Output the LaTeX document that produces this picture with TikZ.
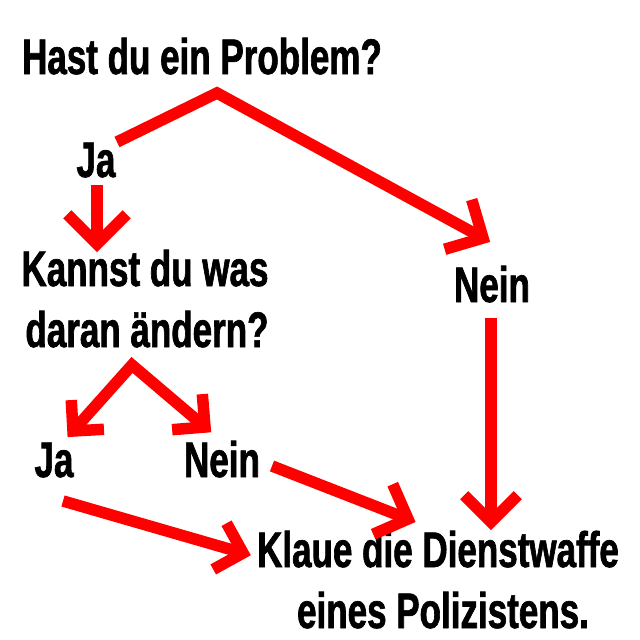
\documentclass[tikz,border=0pt]{standalone}
\usepackage{fontspec}
\newfontfamily\dinfont{Liberation Sans}[FakeStretch=0.70,FakeBold=1.3]
\usetikzlibrary{calc}
\newcommand\redhead[3]{\draw[redline] ($(#1)!#3!45:(#2)$) -- (#1) -- ($(#1)!#3!-45:(#2)$);}
\begin{document}
\begin{tikzpicture}[x=1pt,y=-1pt,
  lbl/.style={font=\dinfont\bfseries\fontsize{50}{50}\selectfont, inner sep=0pt, anchor=base, text=black},
  redline/.style={draw=red, line width=11.5pt, line cap=butt, line join=miter}]
\useasboundingbox[fill=white] (0,0) rectangle (640,640);
% texts
\node[lbl] (q1) at (202,74) {Hast du ein Problem?};
\node[lbl] (ja1) at (96,177) {Ja};
\node[lbl] (q2a) at (145,286) {Kannst du was};
\node[lbl] (q2b) at (147,347) {daran ändern?};
\node[lbl] (nein1) at (492,302) {Nein};
\node[lbl] (ja2) at (54,477) {Ja};
\node[lbl] (nein2) at (222,477) {Nein};
\node[lbl] (res1) at (438,567) {Klaue die Dienstwaffe};
\node[lbl] (res2) at (443,628) {eines Polizistens.};
% connector points
\coordinate (a0) at (117,142);
\coordinate (aApex) at (217,93);
\coordinate (aTip) at (483,238);
\coordinate (b0) at (97,185);
\coordinate (bTip) at (97,244);
\coordinate (cApex) at (132,365);
\coordinate (cL) at (73,431);
\coordinate (cR) at (205,427);
\coordinate (d0) at (63,501);
\coordinate (dTip) at (243,553);
\coordinate (e0) at (272,466);
\coordinate (eTip) at (408,519);
\coordinate (f0) at (491,318);
\coordinate (fTip) at (491,522);
% connectors
\draw[redline] (a0) -- (aApex) -- (aTip);
\redhead{aTip}{aApex}{40pt}
\draw[redline] (b0) -- (bTip);
\redhead{bTip}{b0}{42pt}
\draw[redline] (cL) -- (cApex) -- (cR);
\redhead{cL}{cApex}{31pt}
\redhead{cR}{cApex}{33pt}
\draw[redline] (d0) -- (dTip);
\redhead{dTip}{d0}{34pt}
\draw[redline] (e0) -- (eTip);
\redhead{eTip}{e0}{38pt}
\draw[redline] (f0) -- (fTip);
\redhead{fTip}{f0}{38pt}
\end{tikzpicture}
\end{document}
